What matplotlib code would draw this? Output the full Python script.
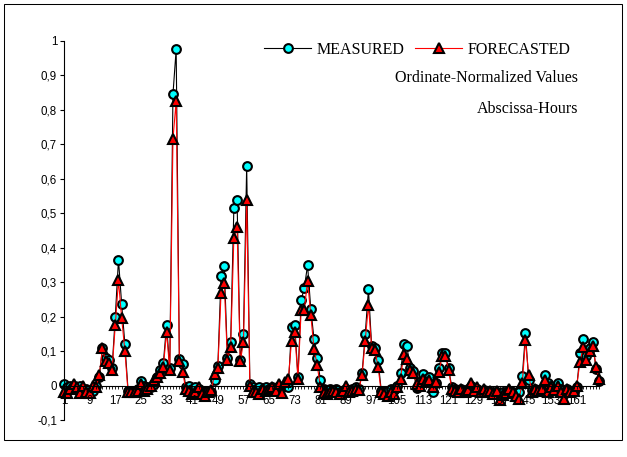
import matplotlib
matplotlib.use("Agg")
import matplotlib.pyplot as plt
from matplotlib.patches import Rectangle

# hourly normalized values
measured = [
    0.004, -0.005, 0.0, 0.0, -0.01, 0.0, -0.015, -0.01, -0.02, -0.015,
    0.0, 0.025, 0.11, 0.08, 0.075, 0.05, 0.2, 0.365, 0.235, 0.12,
    -0.015, -0.02, -0.015, -0.01, 0.013, 0.0, -0.005, -0.005, 0.005, 0.025,
    0.044, 0.065, 0.175, 0.05, 0.845, 0.975, 0.078, 0.062, -0.005, 0.0,
    -0.01, -0.005, -0.01, -0.015, -0.02, -0.015, -0.02, 0.017, 0.056, 0.317,
    0.346, 0.08, 0.127, 0.514, 0.538, 0.075, 0.149, 0.636, 0.005, -0.005,
    -0.01, -0.005, -0.01, -0.005, -0.01, -0.005, -0.01, 0.0, -0.005, 0.0,
    -0.004, 0.17, 0.175, 0.025, 0.248, 0.284, 0.349, 0.223, 0.136, 0.081,
    0.017, -0.01, -0.015, -0.01, -0.015, -0.01, -0.02, -0.015, -0.01, -0.015,
    -0.01, -0.005, -0.01, 0.035, 0.149, 0.279, 0.114, 0.11, 0.073, -0.015,
    -0.02, -0.015, -0.01, -0.014, 0.0, 0.035, 0.12, 0.114, 0.052, 0.042,
    -0.006, 0.01, 0.033, 0.02, 0.025, -0.02, 0.008, 0.052, 0.093, 0.093,
    0.05, -0.004, -0.01, -0.012, -0.01, -0.015, -0.01, 0.0, -0.012, -0.01,
    -0.015, -0.012, -0.015, -0.018, -0.02, -0.02, -0.025, -0.02, -0.018, -0.015,
    -0.02, -0.025, -0.019, 0.027, 0.151, 0.015, -0.014, -0.01, -0.014, -0.014,
    0.03, 0.006, 0.0, -0.01, 0.008, -0.01, -0.025, -0.01, -0.02, -0.02,
    -0.005, 0.093, 0.134, 0.085, 0.11, 0.127, 0.048, 0.013,
]
forecasted = [
    -0.02, -0.022, -0.01, 0.003, -0.005, -0.022, 0.0, -0.02, -0.022, 0.0,
    -0.005, 0.03, 0.108, 0.07, 0.065, 0.045, 0.175, 0.305, 0.195, 0.1,
    -0.02, -0.02, -0.02, -0.015, 0.005, -0.015, -0.01, 0.0, 0.015, 0.025,
    0.035, 0.055, 0.155, 0.045, 0.715, 0.825, 0.072, 0.04, -0.01, -0.015,
    -0.025, -0.02, -0.005, -0.025, -0.03, -0.02, -0.012, 0.033, 0.05, 0.267,
    0.296, 0.075, 0.112, 0.427, 0.46, 0.071, 0.125, 0.538, 0.0, -0.02,
    -0.02, -0.025, -0.01, -0.015, -0.01, -0.005, -0.015, 0.005, -0.023, 0.01,
    0.018, 0.13, 0.155, 0.02, 0.218, 0.22, 0.304, 0.204, 0.107, 0.059,
    -0.004, -0.022, -0.025, -0.02, -0.015, -0.02, -0.025, -0.015, 0.0, -0.02,
    -0.015, -0.01, -0.012, 0.03, 0.13, 0.233, 0.11, 0.102, 0.054, -0.02,
    -0.025, -0.03, -0.02, -0.025, -0.005, 0.02, 0.09, 0.078, 0.045, 0.035,
    0.005, 0.0, 0.02, 0.01, 0.015, -0.005, 0.01, 0.04, 0.085, 0.085,
    0.045, -0.01, -0.015, -0.018, -0.01, -0.02, -0.012, 0.006, -0.015, -0.004,
    -0.02, -0.01, -0.02, -0.015, -0.025, -0.015, -0.043, -0.028, -0.023, -0.01,
    -0.019, -0.03, -0.038, 0.008, 0.131, 0.03, -0.02, -0.009, -0.015, -0.01,
    0.015, -0.02, -0.005, -0.014, 0.0, -0.02, -0.038, -0.009, -0.02, -0.015,
    0.0, 0.069, 0.112, 0.073, 0.1, 0.114, 0.054, 0.02,
]
hours = list(range(1, len(measured) + 1))
x_labels = list(range(1, 162, 8))
y_ticks = [-0.1, 0, 0.1, 0.2, 0.3, 0.4, 0.5, 0.6, 0.7, 0.8, 0.9, 1]
y_labels = ["-0,1", "0", "0,1", "0,2", "0,3", "0,4", "0,5", "0,6", "0,7", "0,8", "0,9", "1"]

plt.rcParams['font.family'] = ['Liberation Sans', 'DejaVu Sans']
serif = {'family': 'Liberation Serif', 'size': 11.5}

fig = plt.figure(figsize=(6.27, 4.57), dpi=100)
ax = fig.add_axes([64 / 627, 1 - 420 / 457, 535.2 / 627, 379.3 / 457])

ax.plot(hours, measured, color="black", lw=0.8, marker="o", ms=6.3,
        mfc="#00ffff", mec="black", mew=1.5, label="MEASURED", clip_on=False)
ax.plot(hours, forecasted, color="red", lw=0.8, marker="^", ms=6.8,
        mfc="red", mec="black", mew=1.5, label="FORECASTED", clip_on=False)

ax.set_xlim(1, len(hours))
ax.set_ylim(-0.1, 1)
ax.spines['top'].set_visible(False)
ax.spines['right'].set_visible(False)
ax.spines['bottom'].set_position(('data', 0))
ax.spines['left'].set_linewidth(0.8)
ax.spines['bottom'].set_linewidth(0.8)
# tick labels sit on top of the markers like in the original
ax.xaxis.set_zorder(5)
ax.yaxis.set_zorder(5)

ax.set_xticks(hours)
ax.set_xticklabels([str(h) if h in x_labels else "" for h in hours])
ax.set_yticks(y_ticks)
ax.set_yticklabels(y_labels)
ax.tick_params(axis='x', direction='out', length=2.5, width=0.6, labelsize=8.3, pad=4.5)
ax.tick_params(axis='y', direction='out', length=3, width=0.8, labelsize=8.3, pad=2)

ax.legend(ncol=2, loc='upper left', bbox_to_anchor=(264 / 627, 1 - 42 / 457),
          bbox_transform=fig.transFigure, frameon=False, prop=serif,
          handlelength=2.95, handletextpad=0.35, columnspacing=0.65,
          borderpad=0, borderaxespad=0, numpoints=1)

fig.text(578 / 627, 1 - 78.3 / 457, "Ordinate-Normalized Values", ha='right', va='center', **serif)
fig.text(578 / 627, 1 - 109.3 / 457, "Abscissa-Hours", ha='right', va='center', **serif)

fig.patches.append(Rectangle((4 / 627, 17 / 457), 618 / 627, 436 / 457, transform=fig.transFigure,
                             fill=False, ec='black', lw=0.75))

fig.savefig("out.png", dpi=100)
